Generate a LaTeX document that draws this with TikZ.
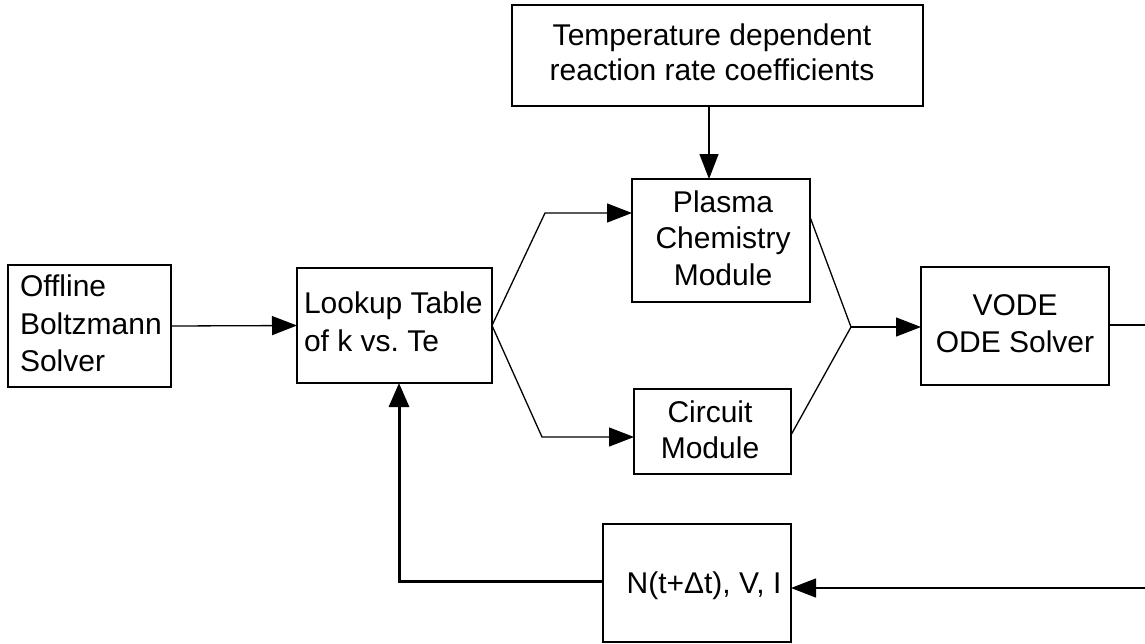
\documentclass[tikz,border=0pt]{standalone}
\usepackage{fontspec}
\setmainfont{Liberation Sans}
\frenchspacing
\usetikzlibrary{arrows.meta,calc}
\begin{document}
\begin{tikzpicture}[x=1pt,y=-1pt,
  blk/.style={draw, rectangle, line width=1.7pt, inner sep=0pt, outer sep=0pt},
  lbl/.style={inner sep=0pt, outer sep=0pt},
  conn/.style={line width=1.3pt, line join=miter},
  arr/.style={conn, -{Triangle[length=25pt,width=19pt]}},
  fbarr/.style={line width=3pt, -{Triangle[length=24pt,width=20pt]}}
]
\useasboundingbox (0,0) rectangle (1145,643);

% boxes
\node[blk, minimum width=163pt, minimum height=122pt] (off)    at (89.5,326) {};
\node[blk, minimum width=195pt, minimum height=115pt] (look)   at (394.5,325.5) {};
\node[blk, minimum width=411pt, minimum height=101pt] (temp)   at (717.5,55.5) {};
\node[blk, minimum width=178pt, minimum height=123pt] (plasma) at (721,240.5) {};
\node[blk, minimum width=157pt, minimum height=85pt]  (circ)   at (712.5,431.5) {};
\node[blk, minimum width=188pt, minimum height=118pt] (vode)   at (1015,326) {};
\node[blk, minimum width=188pt, minimum height=118pt] (nbox)   at (697,583) {};

% texts
\node[lbl, anchor=west, align=left, font=\fontsize{30}{37.5}\selectfont] (offtxt) at (20,326.6)
  {\strut Offline\\\strut Boltzmann\\\strut Solver};
\node[lbl, anchor=west, align=left, font=\fontsize{30}{38}\selectfont] (looktxt) at (304,324.4)
  {\strut Lookup Table\\\strut of k vs. Te};
\node[lbl, align=center, font=\fontsize{30}{34.5}\selectfont] (temptxt) at (712,55.9)
  {\strut Temperature dependent\\\strut reaction rate coefficients};
\node[lbl, align=center, font=\fontsize{30}{36.5}\selectfont] (plasmatxt) at (723,241.2)
  {\strut Plasma\\\strut Chemistry\\\strut Module};
\node[lbl, align=center, font=\fontsize{30}{36}\selectfont] (circtxt) at (710,432.8)
  {\strut Circuit\\\strut Module};
\node[lbl, align=center, font=\fontsize{30}{37}\selectfont] (vodetxt) at (1015,326.1)
  {\strut VODE\\\strut ODE Solver};
\node[lbl, align=center, font=\fontsize{30}{37}\selectfont] (ntxt) at (704,585.6)
  {\strut N(t+Δt), V, I};

% junction coordinates
\coordinate (f1) at (545,213);
\coordinate (f2) at (542,437);
\coordinate (j)  at (851,327);
\coordinate (e1) at (1145,325);
\coordinate (e2) at (1145,588);

% connectors
\draw[arr] (off.east) -- (look.west);
\draw[arr] ([xshift=-8.5pt]temp.south) -- ([xshift=-12pt]plasma.north);
\draw[arr] (look.east) -- (f1) -- (f1 -| plasma.west);
\draw[arr] (look.east) -- (f2) -- (f2 -| circ.west);
\draw[conn] ([yshift=-38pt]plasma.north east) -- (j);
\draw[conn] ([yshift=-3.5pt]circ.east) -- (j);
\draw[arr] (j) -- (j -| vode.west);
\draw[conn] (vode.east |- e1) -- (e1);
\draw[arr] (e2) -- (e2 -| nbox.east);
\draw[fbarr] ([yshift=2pt]nbox.west) -| ([xshift=4.5pt]look.south);
\end{tikzpicture}
\end{document}
